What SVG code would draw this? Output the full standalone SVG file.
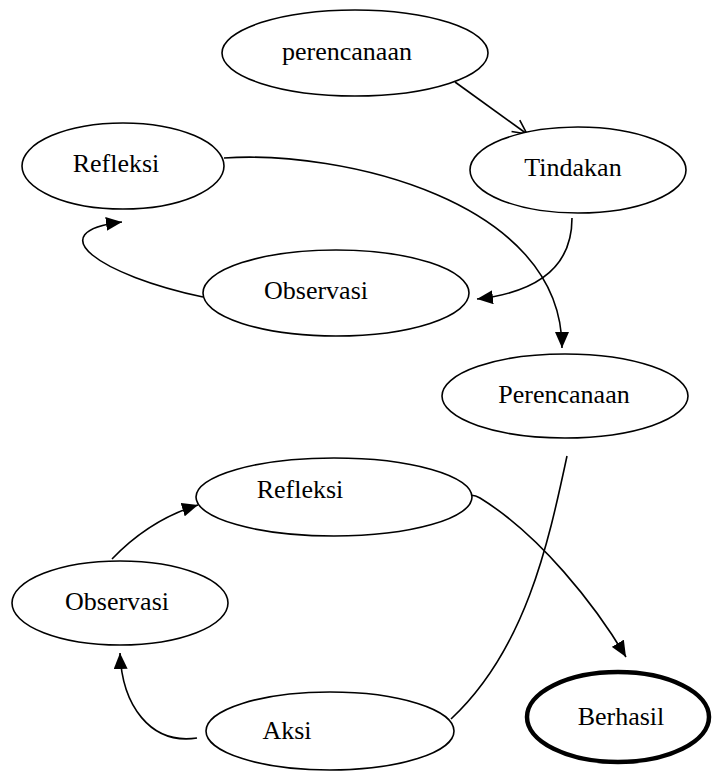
<svg xmlns="http://www.w3.org/2000/svg" width="713" height="771" viewBox="0 0 713 771">
<style>
.n ellipse{fill:#fff;stroke:#000;stroke-width:1.6}
.n text{font-family:"Liberation Serif","Times New Roman",serif;font-size:26px;fill:#000;text-anchor:middle}
#berhasil ellipse{stroke-width:4.5}
.c path{fill:none;stroke:#000;stroke-width:1.6}
</style>
<defs>
<marker id="arr" viewBox="0 0 16 14" refX="16" refY="7" markerWidth="16" markerHeight="14" markerUnits="userSpaceOnUse" orient="auto"><path d="M0,0 L16,7 L0,14 z" fill="#000"/></marker>
<marker id="open" viewBox="0 0 16 16" refX="15" refY="8" markerWidth="16" markerHeight="16" markerUnits="userSpaceOnUse" orient="auto"><path d="M1,1 L15,8 L1,15" fill="none" stroke="#000" stroke-width="1.6"/></marker>
</defs>
<rect width="713" height="771" fill="#fff"/>
<g class="c" id="connectors">
<path d="M455,82 L527,134" marker-end="url(#open)"/>
<path d="M224,158 C340,150 562,200 562,348" marker-end="url(#arr)"/>
<path d="M572,218 C572,265 540,292 477,299" marker-end="url(#arr)"/>
<path d="M203,297 C100,275 38,232 122,222" marker-end="url(#arr)"/>
<path d="M567,456 C548,545 525,650 451,719"/>
<path d="M466,497 Q472,493 480,498 C540,535 595,605 626,657" marker-end="url(#arr)"/>
<path d="M112,559 C135,535 165,515 198,505" marker-end="url(#arr)"/>
<path d="M197,738 C150,745 122,705 120,653" marker-end="url(#arr)"/>
</g>
<g class="n" id="perencanaan1"><ellipse cx="355" cy="53" rx="133" ry="43"/><text x="347" y="60">perencanaan</text></g>
<g class="n" id="refleksi1"><ellipse cx="123" cy="166" rx="101" ry="43"/><text x="116" y="172">Refleksi</text></g>
<g class="n" id="tindakan"><ellipse cx="578" cy="170" rx="108" ry="43"/><text x="573" y="176">Tindakan</text></g>
<g class="n" id="observasi1"><ellipse cx="336" cy="293" rx="133" ry="43"/><text x="316" y="299">Observasi</text></g>
<g class="n" id="perencanaan2"><ellipse cx="565" cy="396" rx="123" ry="42"/><text x="564" y="403">Perencanaan</text></g>
<g class="n" id="refleksi2"><ellipse cx="334" cy="497" rx="138" ry="39"/><text x="300" y="498">Refleksi</text></g>
<g class="n" id="observasi2"><ellipse cx="120" cy="603" rx="108" ry="42"/><text x="117" y="610">Observasi</text></g>
<g class="n" id="aksi"><ellipse cx="330" cy="731" rx="124" ry="39"/><text x="287" y="739">Aksi</text></g>
<g class="n" id="berhasil"><ellipse cx="618" cy="717" rx="91" ry="45"/><text x="621" y="725">Berhasil</text></g>
</svg>
